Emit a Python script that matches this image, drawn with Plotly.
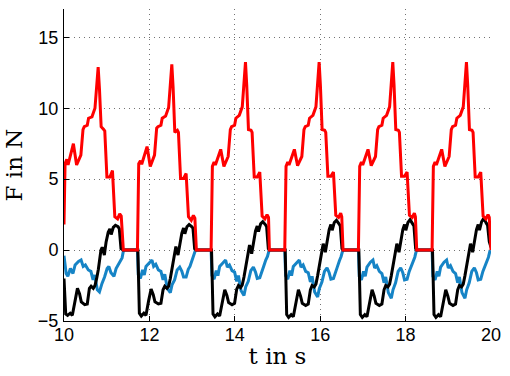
import plotly.graph_objects as go

# ---------------- data ----------------
# Red series (F in N), one list per cycle
red_t = [
    [10.000, 10.025, 10.065, 10.095, 10.220, 10.295, 10.395, 10.445, 10.475, 10.545, 10.575, 10.655, 10.725, 10.775, 10.800, 10.830, 10.870, 10.930, 10.955, 11.005, 11.075, 11.135, 11.190, 11.255, 11.305, 11.340, 11.390],
    [11.720, 11.750, 11.790, 11.820, 11.945, 12.020, 12.120, 12.170, 12.200, 12.270, 12.300, 12.380, 12.450, 12.500, 12.525, 12.555, 12.595, 12.655, 12.680, 12.730, 12.800, 12.860, 12.915, 12.980, 13.030, 13.065, 13.100],
    [13.445, 13.475, 13.515, 13.545, 13.670, 13.745, 13.845, 13.895, 13.925, 13.995, 14.025, 14.105, 14.175, 14.225, 14.250, 14.280, 14.320, 14.380, 14.405, 14.455, 14.525, 14.585, 14.640, 14.705, 14.755, 14.790, 14.810],
    [15.170, 15.200, 15.240, 15.270, 15.395, 15.470, 15.570, 15.620, 15.650, 15.720, 15.750, 15.830, 15.900, 15.950, 15.975, 16.005, 16.045, 16.105, 16.130, 16.180, 16.250, 16.310, 16.365, 16.430, 16.480, 16.505, 16.535],
    [16.895, 16.925, 16.965, 16.995, 17.120, 17.195, 17.295, 17.345, 17.375, 17.445, 17.475, 17.555, 17.625, 17.675, 17.700, 17.730, 17.770, 17.830, 17.855, 17.905, 17.975, 18.035, 18.090, 18.155, 18.205, 18.230, 18.260],
    [18.620, 18.650, 18.690, 18.720, 18.845, 18.920, 19.020, 19.070, 19.100, 19.170, 19.200, 19.280, 19.350, 19.400, 19.425, 19.455, 19.495, 19.555, 19.580, 19.630, 19.700, 19.760, 19.815, 19.880, 19.930, 19.960, 20.000],
]
red_f = [
    [1.8, 6.1, 6.4, 6.0, 7.5, 6.0, 6.7, 8.5, 8.7, 8.8, 9.3, 9.4, 10.0, 11.9, 12.9, 11.4, 8.7, 8.5, 8.4, 5.15, 5.15, 5.6, 2.35, 2.2, 2.55, 2.4, 0.0],
    [0.0, 6.1, 6.3, 6.05, 7.3, 5.9, 6.7, 8.6, 8.7, 8.8, 9.3, 9.45, 10.05, 12.1, 13.1, 11.5, 8.3, 8.45, 8.3, 5.05, 5.05, 5.4, 2.35, 2.1, 2.45, 2.25, 0.0],
    [0.0, 5.9, 6.2, 6.0, 7.1, 5.9, 6.6, 8.5, 8.7, 8.8, 9.3, 9.5, 10.1, 12.2, 13.25, 11.6, 8.5, 8.45, 8.3, 5.15, 5.15, 5.5, 2.4, 2.2, 2.5, 2.3, 0.0],
    [0.0, 5.9, 6.2, 6.0, 7.1, 5.95, 6.6, 8.5, 8.7, 8.8, 9.3, 9.5, 10.1, 12.2, 13.25, 11.6, 8.5, 8.45, 8.3, 5.2, 5.2, 5.5, 2.45, 2.3, 2.6, 2.35, 0.0],
    [0.0, 5.9, 6.2, 6.0, 7.1, 5.95, 6.6, 8.5, 8.7, 8.8, 9.3, 9.5, 10.1, 12.2, 13.25, 11.6, 8.5, 8.45, 8.3, 5.2, 5.2, 5.5, 2.45, 2.3, 2.6, 2.35, 0.0],
    [0.0, 5.9, 6.2, 6.0, 7.1, 5.9, 6.6, 8.5, 8.7, 8.8, 9.3, 9.5, 10.1, 12.2, 13.25, 11.6, 8.5, 8.45, 8.3, 5.15, 5.15, 5.5, 2.4, 2.2, 2.5, 2.3, 0.0],
]

# Black series
black_t = [
    [10.000, 10.040, 10.085, 10.145, 10.195, 10.255, 10.315, 10.365, 10.405, 10.485, 10.545, 10.595, 10.635, 10.685, 10.725, 10.765, 10.805, 10.865, 10.895, 10.945, 10.985, 11.035, 11.075, 11.105, 11.155, 11.205, 11.265, 11.295, 11.335, 11.385],
    [11.730, 11.765, 11.810, 11.870, 11.920, 11.980, 12.040, 12.090, 12.130, 12.210, 12.270, 12.320, 12.360, 12.410, 12.450, 12.490, 12.530, 12.590, 12.620, 12.670, 12.710, 12.760, 12.800, 12.830, 12.880, 12.930, 12.990, 13.020, 13.060, 13.100],
    [13.455, 13.490, 13.535, 13.595, 13.645, 13.705, 13.765, 13.815, 13.855, 13.935, 13.995, 14.045, 14.085, 14.135, 14.175, 14.215, 14.255, 14.315, 14.345, 14.395, 14.435, 14.485, 14.525, 14.555, 14.605, 14.655, 14.715, 14.745, 14.785, 14.815],
    [15.180, 15.215, 15.260, 15.320, 15.370, 15.430, 15.490, 15.540, 15.580, 15.660, 15.720, 15.770, 15.810, 15.860, 15.900, 15.940, 15.980, 16.040, 16.070, 16.120, 16.160, 16.210, 16.250, 16.280, 16.330, 16.380, 16.440, 16.470, 16.510, 16.540],
    [16.905, 16.940, 16.985, 17.045, 17.095, 17.155, 17.215, 17.265, 17.305, 17.385, 17.445, 17.495, 17.535, 17.585, 17.625, 17.665, 17.705, 17.765, 17.795, 17.845, 17.885, 17.935, 17.975, 18.005, 18.055, 18.105, 18.165, 18.195, 18.235, 18.265],
    [18.630, 18.665, 18.710, 18.770, 18.820, 18.880, 18.940, 18.990, 19.030, 19.110, 19.170, 19.220, 19.260, 19.310, 19.350, 19.390, 19.430, 19.490, 19.520, 19.570, 19.610, 19.660, 19.700, 19.730, 19.780, 19.830, 19.890, 19.920, 19.960, 20.000],
]
black_f = [
    [-2.0, -4.5, -4.6, -4.45, -4.6, -3.55, -2.7, -3.1, -3.65, -3.85, -3.8, -2.7, -2.55, -2.7, -2.5, -2.0, -1.35, 0.0, 0.2, -0.35, 0.55, 1.25, 1.5, 1.1, 1.6, 1.75, 1.65, 1.5, 0.1, 0.0],
    [0.0, -4.45, -4.65, -4.45, -4.6, -3.6, -2.75, -3.15, -3.65, -3.8, -3.75, -2.8, -2.55, -2.7, -2.55, -2.0, -1.3, -0.2, 0.25, -0.35, 0.5, 1.2, 1.55, 1.15, 1.65, 1.8, 1.65, 1.55, 0.1, 0.0],
    [0.0, -4.5, -4.7, -4.5, -4.65, -3.6, -2.8, -3.2, -3.7, -3.85, -3.75, -2.75, -2.5, -2.65, -2.45, -1.9, -1.2, -0.1, 0.35, -0.25, 0.6, 1.35, 1.7, 1.3, 1.85, 2.0, 1.8, 1.65, 0.1, 0.0],
    [0.0, -4.55, -4.75, -4.55, -4.7, -3.65, -2.8, -3.25, -3.75, -3.9, -3.8, -2.8, -2.5, -2.6, -2.4, -1.8, -1.1, 0.0, 0.45, -0.15, 0.7, 1.45, 1.8, 1.4, 1.95, 2.1, 1.85, 1.7, 0.1, 0.0],
    [0.0, -4.55, -4.75, -4.55, -4.7, -3.65, -2.8, -3.25, -3.75, -3.9, -3.8, -2.8, -2.5, -2.6, -2.4, -1.8, -1.1, 0.0, 0.45, -0.15, 0.7, 1.45, 1.8, 1.4, 1.95, 2.15, 1.85, 1.7, 0.1, 0.0],
    [0.0, -4.55, -4.75, -4.55, -4.7, -3.65, -2.8, -3.25, -3.75, -3.9, -3.8, -2.8, -2.5, -2.6, -2.4, -1.8, -1.1, 0.0, 0.45, -0.15, 0.7, 1.45, 1.8, 1.4, 2.0, 2.25, 1.9, 1.75, 0.6, 0.2],
]

# Blue series
blue_t = [
    [10.000, 10.050, 10.090, 10.150, 10.210, 10.260, 10.340, 10.400, 10.450, 10.500, 10.570, 10.630, 10.680, 10.720, 10.780, 10.830, 10.890, 10.950, 11.010, 11.050, 11.100, 11.170, 11.220, 11.270, 11.320, 11.360, 11.395],
    [11.720, 11.740, 11.790, 11.840, 11.880, 11.920, 12.000, 12.060, 12.100, 12.150, 12.210, 12.270, 12.320, 12.360, 12.420, 12.490, 12.530, 12.590, 12.650, 12.710, 12.760, 12.800, 12.860, 12.910, 12.950, 13.000, 13.040, 13.080],
    [13.445, 13.465, 13.515, 13.565, 13.605, 13.645, 13.725, 13.785, 13.825, 13.875, 13.935, 13.995, 14.045, 14.085, 14.145, 14.215, 14.255, 14.315, 14.375, 14.435, 14.485, 14.525, 14.585, 14.635, 14.675, 14.725, 14.765, 14.805],
    [15.170, 15.190, 15.240, 15.290, 15.330, 15.370, 15.450, 15.510, 15.550, 15.600, 15.660, 15.720, 15.770, 15.810, 15.870, 15.940, 15.980, 16.040, 16.100, 16.160, 16.210, 16.250, 16.310, 16.360, 16.400, 16.450, 16.490, 16.530],
    [16.895, 16.915, 16.965, 17.015, 17.055, 17.095, 17.175, 17.235, 17.275, 17.325, 17.385, 17.445, 17.495, 17.535, 17.595, 17.665, 17.705, 17.765, 17.825, 17.885, 17.935, 17.975, 18.035, 18.085, 18.125, 18.175, 18.215, 18.255],
    [18.620, 18.640, 18.690, 18.740, 18.780, 18.820, 18.900, 18.960, 19.000, 19.050, 19.110, 19.170, 19.220, 19.260, 19.320, 19.390, 19.430, 19.490, 19.550, 19.610, 19.660, 19.700, 19.760, 19.810, 19.850, 19.900, 19.940, 19.980],
]
blue_f = [
    [-0.4, -1.65, -1.85, -1.3, -1.65, -1.05, -0.8, -0.7, -1.15, -1.05, -1.4, -1.5, -2.1, -1.75, -2.8, -2.95, -2.35, -1.9, -1.3, -1.15, -1.6, -1.85, -1.3, -1.05, -0.8, -0.55, 0.0],
    [0.0, -1.75, -2.0, -1.4, -1.75, -1.15, -0.9, -0.7, -1.15, -1.0, -1.4, -1.5, -2.1, -1.7, -2.7, -3.0, -2.45, -2.1, -1.4, -1.2, -1.5, -1.9, -1.9, -1.35, -1.15, -0.7, -0.45, 0.0],
    [0.0, -1.8, -2.05, -1.45, -1.8, -1.15, -0.9, -0.7, -1.2, -1.05, -1.45, -1.55, -2.2, -1.8, -2.85, -3.2, -2.6, -2.2, -1.45, -1.2, -1.55, -2.0, -1.95, -1.4, -1.15, -0.7, -0.45, 0.0],
    [0.0, -1.8, -2.05, -1.45, -1.8, -1.15, -0.85, -0.7, -1.2, -1.05, -1.5, -1.6, -2.25, -1.85, -2.95, -3.3, -2.7, -2.25, -1.5, -1.25, -1.6, -2.05, -2.0, -1.45, -1.2, -0.75, -0.45, 0.0],
    [0.0, -1.85, -2.1, -1.5, -1.85, -1.2, -0.85, -0.7, -1.25, -1.1, -1.5, -1.65, -2.3, -1.9, -3.0, -3.4, -2.8, -2.3, -1.5, -1.25, -1.6, -2.1, -2.05, -1.5, -1.2, -0.75, -0.5, 0.0],
    [0.0, -1.85, -2.1, -1.5, -1.85, -1.2, -0.85, -0.7, -1.25, -1.1, -1.5, -1.65, -2.3, -1.9, -3.0, -3.4, -2.8, -2.3, -1.5, -1.25, -1.6, -2.1, -2.05, -1.5, -1.2, -0.75, -0.5, 0.0],
]

x_ticks = [10, 12, 14, 16, 18, 20]
y_ticks = [-5, 0, 5, 10, 15]
x_label = "t in s"
y_label = "F in N"


def flatten(parts):
    out = []
    for p in parts:
        out.extend(p)
    return out


fig = go.Figure()
series = [
    (blue_t, blue_f, "#1684c6"),
    (black_t, black_f, "#000000"),
    (red_t, red_f, "#ff0000"),
]
for ts, fs, col in series:
    fig.add_trace(go.Scatter(
        x=flatten(ts), y=flatten(fs), mode="lines",
        line=dict(color=col, width=3), showlegend=False, hoverinfo="skip",
    ))

tick_font = dict(family="Liberation Sans, Arial, sans-serif", size=18, color="#000000")
title_font = dict(family="DejaVu Serif, serif", size=23, color="#000000")

grid = dict(showgrid=True, gridcolor="rgba(0,0,0,0.55)", gridwidth=1, griddash="1px,4px")

fig.update_layout(
    width=510, height=376,
    margin=dict(l=64, r=11, t=9, b=55),
    paper_bgcolor="white", plot_bgcolor="white",
    xaxis=dict(
        range=[10, 20], tickvals=x_ticks, ticktext=[str(v) for v in x_ticks],
        showline=True, linecolor="black", linewidth=1, mirror=False,
        ticks="inside", ticklen=5, tickcolor="black", tickwidth=1,
        zeroline=False, tickfont=tick_font, ticklabelstandoff=-3,
        title=dict(text=x_label, font=title_font, standoff=4),
        **grid,
    ),
    yaxis=dict(
        range=[-5, 17], tickvals=y_ticks, ticktext=["\u22125", "0", "5", "10", "15"],
        showline=True, linecolor="black", linewidth=1, mirror=False,
        ticks="inside", ticklen=5, tickcolor="black", tickwidth=1,
        zeroline=False, tickfont=tick_font, ticklabelstandoff=1,
        title=dict(text=y_label, font=title_font, standoff=8),
        **grid,
    ),
)

# remove the default page margin so the figure sits at the window origin
fig.write_html("out.html", config={"displayModeBar": False},
               post_script="document.body.style.margin='0px';")
